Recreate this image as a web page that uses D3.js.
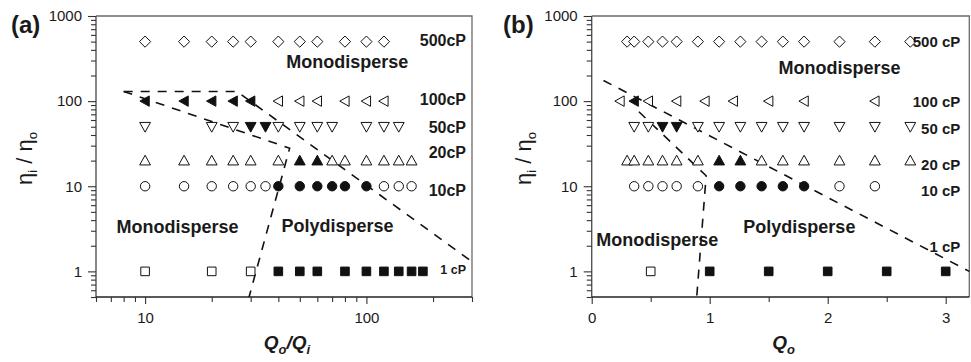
<!DOCTYPE html>
<html>
<head>
<meta charset="utf-8">
<script src="https://cdn.jsdelivr.net/npm/d3@7/dist/d3.min.js"></script>
<style>
  body { margin: 0; background: #fff; }
  text { font-family: "Liberation Sans", Arial, Helvetica, sans-serif; fill: #1a1a1a; }
</style>
</head>
<body>
<svg id="chart" width="971" height="362"></svg>
<script>
// ---- panel (a): x = Qo/Qi (log), y = eta_i/eta_o (log)
const a500open   = [10, 15, 20, 25, 30, 40, 50, 60, 80, 100, 120];
const a100filled = [10, 15, 20, 25, 30];
const a100open   = [40, 50, 60, 80, 100, 120];
const a50open    = [10, 20, 25, 40, 50, 60, 70, 100, 120, 140];
const a50filled  = [30, 35];
const a20open    = [10, 15, 20, 25, 30, 40, 70, 80, 100, 120, 140, 160];
const a20filled  = [50, 60];
const a10open    = [10, 15, 20, 25, 30, 35, 120, 140, 160];
const a10filled  = [40, 50, 60, 70, 80, 100];
const a1open     = [10, 20, 30];
const a1filled   = [40, 50, 60, 80, 100, 120, 140, 160, 180];

// regime boundaries (a), [x, y] in data units
const aBoundUpper = [[8, 130], [26, 130], [300, 1.3]];
const aBoundLower = [[8, 130], [45, 28], [29.5, 0.5]];

// ---- panel (b): x = Qo (linear)
const b500open   = [0.3, 0.36, 0.48, 0.6, 0.72, 0.9, 1.08, 1.26, 1.44, 1.62, 1.8, 2.1, 2.4, 2.7];
const b100open   = [0.24, 0.48, 0.72, 0.96, 1.2, 1.5, 1.8, 2.4];
const b100filled = [0.36];
const b50open    = [0.36, 0.48, 0.9, 1.08, 1.26, 1.44, 1.62, 1.8, 2.1, 2.4, 2.7];
const b50filled  = [0.6, 0.72];
const b20open    = [0.3, 0.36, 0.48, 0.6, 0.72, 0.9, 1.44, 1.62, 1.8, 2.1, 2.4, 2.7];
const b20filled  = [1.08, 1.26];
const b10open    = [0.36, 0.48, 0.6, 0.72, 0.9, 2.1, 2.4];
const b10filled  = [1.08, 1.26, 1.44, 1.62, 1.8];
const b1open     = [0.5];
const b1filled   = [1, 1.5, 2, 2.5, 3];

const bBoundUpper = [[0.1, 175], [3.2, 1.0]];
const bBoundLower = [[0.4, 75], [0.97, 13.3], [0.89, 0.5]];

// viscosity rows and their labels
const viscRows    = [500, 100, 50, 20, 10, 1];
const aViscLabels = ["500cP", "100cP", "50cP", "20cP", "10cP", "1 cP"];
const aLabelAt    = [520, 105, 50, 25, 9, 1.05];
const bViscLabels = ["500 cP", "100 cP", "50 cP", "20 cP", "10 cP", "1 cP"];
const bLabelAt    = [500, 98, 48, 18, 9, 1.95];

// regime annotations: [text, x, y]
const aRegimes = [["Monodisperse", 82, 290], ["Monodisperse", 14, 3.35], ["Polydisperse", 74, 3.5]];
const bRegimes = [["Monodisperse", 2.1, 245], ["Monodisperse", 0.555, 2.37], ["Polydisperse", 1.76, 3.36]];

const yTicks = [1, 10, 100, 1000];
const yMinor = [];
[0.1, 1, 10, 100].forEach(dec => { for (let k = 2; k <= 9; k++) { const v = dec * k; if (v >= 0.5 && v < 1000) yMinor.push(v); } });
const aXTicks = [10, 100];
const aXMinor = [6, 7, 8, 9, 20, 30, 40, 50, 60, 70, 80, 90, 200, 300];
const bXTicks = [0, 1, 2, 3];
const bXMinor = [0.5, 1.5, 2.5];

// marker shapes
const shapes = {
  diamond: s => `M0,${-s}L${s},0L0,${s}L${-s},0Z`,
  square:  s => `M${-s},${-s}H${s}V${s}H${-s}Z`,
  up:      s => `M0,${-s}L${s},${s * 0.8}L${-s},${s * 0.8}Z`,
  down:    s => `M0,${s}L${s},${-s * 0.8}L${-s},${-s * 0.8}Z`,
  left:    s => `M${-s},0L${s * 0.8},${-s}L${s * 0.8},${s}Z`,
  circle:  s => `M${s},0A${s},${s} 0 1,1 ${-s},0A${s},${s} 0 1,1 ${s},0Z`
};
const shapeSize = { diamond: 5.6, square: 4.3, up: 5.4, down: 5.4, left: 5.2, circle: 4.7 };

const svg = d3.select("#chart");

function buildSeries(list) {
  const out = [];
  list.forEach(([shape, yv, open, filled]) => {
    open.forEach(x => out.push({ shape, x, y: yv, filled: false }));
    filled.forEach(x => out.push({ shape, x, y: yv, filled: true }));
  });
  return out;
}

function drawPanel(cfg) {
  const { left, right, top, bottom, x } = cfg;
  const y = d3.scaleLog().domain([0.5, 1000]).range([bottom, top]);
  const g = svg.append("g");

  // frame (top / right)
  g.append("path")
    .attr("d", `M${left},${top}H${right}V${bottom}`)
    .attr("fill", "none").attr("stroke", "#6a6a6a").attr("stroke-width", 1.3);

  // y axis
  const yAx = g.append("g").attr("transform", `translate(${left},0)`)
    .call(d3.axisLeft(y).tickValues(yTicks).tickFormat(d3.format("d")).tickSize(8).tickPadding(6));
  g.append("g").attr("transform", `translate(${left},0)`)
    .call(d3.axisLeft(y).tickValues(yMinor).tickFormat("").tickSize(5))
    .select(".domain").remove();

  // x axis
  const xAx = g.append("g").attr("transform", `translate(0,${bottom})`)
    .call(d3.axisBottom(x).tickValues(cfg.xTicks).tickFormat(d3.format("d")).tickSize(7).tickPadding(8));
  g.append("g").attr("transform", `translate(0,${bottom})`)
    .call(d3.axisBottom(x).tickValues(cfg.xMinor).tickFormat("").tickSize(5))
    .select(".domain").remove();

  g.selectAll(".domain").attr("stroke", "#222").attr("stroke-width", 1.4);
  g.selectAll(".tick line").attr("stroke", "#333").attr("stroke-width", 1.1);
  g.selectAll(".tick text").style("font-size", "15px").attr("fill", "#1a1a1a");
  xAx.select(".domain").attr("d", `M${left},0H${right}`);
  yAx.select(".domain").attr("d", `M0,${bottom}V${top}`).attr("stroke", "#555");

  // boundaries
  const line = d3.line().x(d => x(d[0])).y(d => y(d[1]));
  cfg.bounds.forEach(b => {
    g.append("path").attr("d", line(b))
      .attr("fill", "none").attr("stroke", "#111")
      .attr("stroke-width", 1.6).attr("stroke-dasharray", "9,8");
  });

  // markers
  g.selectAll(".pt")
    .data(cfg.points)
    .join("path")
      .attr("class", "pt")
      .attr("transform", d => `translate(${x(d.x)},${y(d.y)})`)
      .attr("d", d => shapes[d.shape](shapeSize[d.shape]))
      .attr("fill", d => d.filled ? "#111" : "#fff")
      .attr("stroke", "#111")
      .attr("stroke-width", 1);

  // viscosity labels
  g.selectAll(".visc")
    .data(cfg.viscLabels)
    .join("text")
      .attr("class", "visc")
      .attr("x", right - cfg.labelPad)
      .attr("y", (d, i) => y(cfg.labelAt[i]))
      .attr("dy", "0.36em")
      .attr("text-anchor", "end")
      .style("font-weight", "bold")
      .style("font-size", (d, i) => (cfg.smallLast && i === 5 ? 12.5 : cfg.labelSize) + "px")
      .text(d => d);

  // regime labels
  g.selectAll(".regime")
    .data(cfg.regimes)
    .join("text")
      .attr("class", "regime")
      .attr("x", d => x(d[1]))
      .attr("y", d => y(d[2]))
      .attr("dy", "0.36em")
      .attr("text-anchor", "middle")
      .style("font-weight", "bold")
      .style("font-size", "18px")
      .text(d => d[0]);

  // panel letter
  g.append("text")
    .attr("x", cfg.letterX).attr("y", 33)
    .style("font-weight", "bold").style("font-size", "24px")
    .text(cfg.letter);

  // y title
  const yt = g.append("text")
    .attr("transform", `translate(${cfg.yTitleX},${(top + bottom) / 2 + 2}) rotate(-90)`)
    .attr("text-anchor", "middle")
    .style("font-size", "22px");
  yt.append("tspan").text("η");
  yt.append("tspan").attr("dy", 5).style("font-size", "13px").text("i");
  yt.append("tspan").attr("dy", -5).text(" / η");
  yt.append("tspan").attr("dy", 5).style("font-size", "13px").text("o");

  // x title
  const xt = g.append("text")
    .attr("x", (left + right) / 2 + 3).attr("y", 354)
    .attr("text-anchor", "middle")
    .style("font-weight", "bold").style("font-style", "italic")
    .style("font-size", "19px");
  cfg.xTitle.forEach(([t, sub]) => {
    if (sub) xt.append("tspan").attr("dy", 5).style("font-size", "13px").text(t);
    else xt.append("tspan").attr("dy", xt.selectAll("tspan").size() ? -5 : 0).text(t);
  });
}

const xA = d3.scaleLog().domain([6, 300]).range([96, 472]);
drawPanel({
  left: 96, right: 472, top: 16, bottom: 297, x: xA,
  xTicks: aXTicks, xMinor: aXMinor,
  bounds: [aBoundUpper, aBoundLower],
  points: buildSeries([
    ["diamond", viscRows[0], a500open, []],
    ["left", viscRows[1], a100open, a100filled],
    ["down", viscRows[2], a50open, a50filled],
    ["up", viscRows[3], a20open, a20filled],
    ["circle", viscRows[4], a10open, a10filled],
    ["square", viscRows[5], a1open, a1filled]
  ]),
  viscLabels: aViscLabels, labelAt: aLabelAt, labelPad: 6, labelSize: 16, smallLast: true,
  regimes: aRegimes,
  letter: "(a)", letterX: 11, yTitleX: 32,
  xTitle: [["Q", false], ["o", true], ["/Q", false], ["i", true]]
});

const xB = d3.scaleLinear().domain([0, 3.2]).range([591.7, 969.3]);
drawPanel({
  left: 591.7, right: 969.3, top: 16, bottom: 297, x: xB,
  xTicks: bXTicks, xMinor: bXMinor,
  bounds: [bBoundUpper, bBoundLower],
  points: buildSeries([
    ["diamond", viscRows[0], b500open, []],
    ["left", viscRows[1], b100open, b100filled],
    ["down", viscRows[2], b50open, b50filled],
    ["up", viscRows[3], b20open, b20filled],
    ["circle", viscRows[4], b10open, b10filled],
    ["square", viscRows[5], b1open, b1filled]
  ]),
  viscLabels: bViscLabels, labelAt: bLabelAt, labelPad: 9, labelSize: 15, smallLast: false,
  regimes: bRegimes,
  letter: "(b)", letterX: 503, yTitleX: 531,
  xTitle: [["Q", false], ["o", true]]
});
</script>
</body>
</html>
